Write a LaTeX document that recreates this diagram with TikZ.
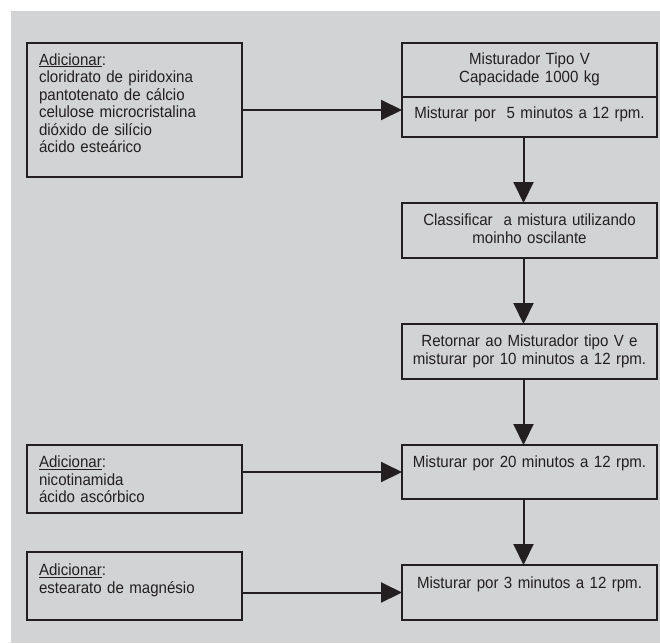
\documentclass[tikz,border=0pt]{standalone}
\usepackage{fontspec}
\setmainfont[FakeStretch=0.93]{Liberation Sans}
\usetikzlibrary{arrows.meta}
\definecolor{panelgray}{HTML}{D1D3D4}
\definecolor{inkblack}{HTML}{231F20}

\begin{document}
\begin{tikzpicture}[x=1pt, y=-1pt, color=inkblack]
    \tikzstyle{every node} = [rectangle, draw, line width=2pt, anchor=north west, outer sep=0pt, inner xsep=12pt, inner ysep=0pt, text height=22.5pt, font=\fontsize{16.2pt}{17.5pt}\selectfont]
    \tikzstyle{addbox} = [text width=191pt, align=left]
    \tikzstyle{stepbox} = [inner xsep=4pt, text width=247pt, align=center]
    \tikzstyle{flow} = [-{Triangle[length=21pt, width=20pt]}, line width=2pt]

    \useasboundingbox (0,0) rectangle (660,643);
    \fill [panelgray] (11,11) rectangle (660,643);

    \node [addbox, text height=22pt, text depth=112pt] (add1) at (27, 43) {\underline{Adicionar}:\\ cloridrato de piridoxina\\ pantotenato de cálcio\\ celulose microcristalina\\ dióxido de silício\\ ácido esteárico};
    \node [addbox, text depth=45.5pt] (add2) at (27, 445) {\underline{Adicionar}:\\ nicotinamida\\ ácido ascórbico};
    \node [addbox, text height=23.5pt, text depth=44.5pt] (add3) at (27, 552) {\underline{Adicionar}:\\ estearato de magnésio};

    \node [stepbox, text height=21.5pt, text depth=32.5pt] (mix) at (402, 43) {Misturador Tipo V\\ Capacidade 1000 kg};
    \node [stepbox, text height=21.5pt, text depth=18.5pt] (mix5) at (402, 97) {Misturar por \ 5 minutos a 12 rpm.};
    \node [stepbox, text depth=32.5pt] (cls) at (402, 203) {Classificar \ a mistura utilizando\\ moinho oscilante};
    \node [stepbox, text depth=32.5pt] (ret) at (402, 324) {Retornar ao Misturador tipo V e\\ misturar por 10 minutos a 12 rpm.};
    \node [stepbox, text depth=31.5pt] (mix20) at (402, 445) {Misturar por 20 minutos a 12 rpm.};
    \node [stepbox, text height=23.5pt, text depth=31.5pt] (mix3) at (402, 565) {Misturar por 3 minutos a 12 rpm.};

    \draw [flow] (add1.east) -- (add1.east -| mix5.west);
    \draw [flow] ([xshift=-6pt]mix5.south) -- ([xshift=-6pt]cls.north);
    \draw [flow] ([xshift=-6pt]cls.south) -- ([xshift=-6pt]ret.north);
    \draw [flow] ([xshift=-6pt]ret.south) -- ([xshift=-6pt]mix20.north);
    \draw [flow] ([xshift=-6pt]mix20.south) -- ([xshift=-6pt]mix3.north);

    \draw [flow] (add2.east |- mix20.west) -- (mix20.west);
    \draw [flow] (add3.east |- mix3.west) -- (mix3.west);
\end{tikzpicture}
\end{document}
